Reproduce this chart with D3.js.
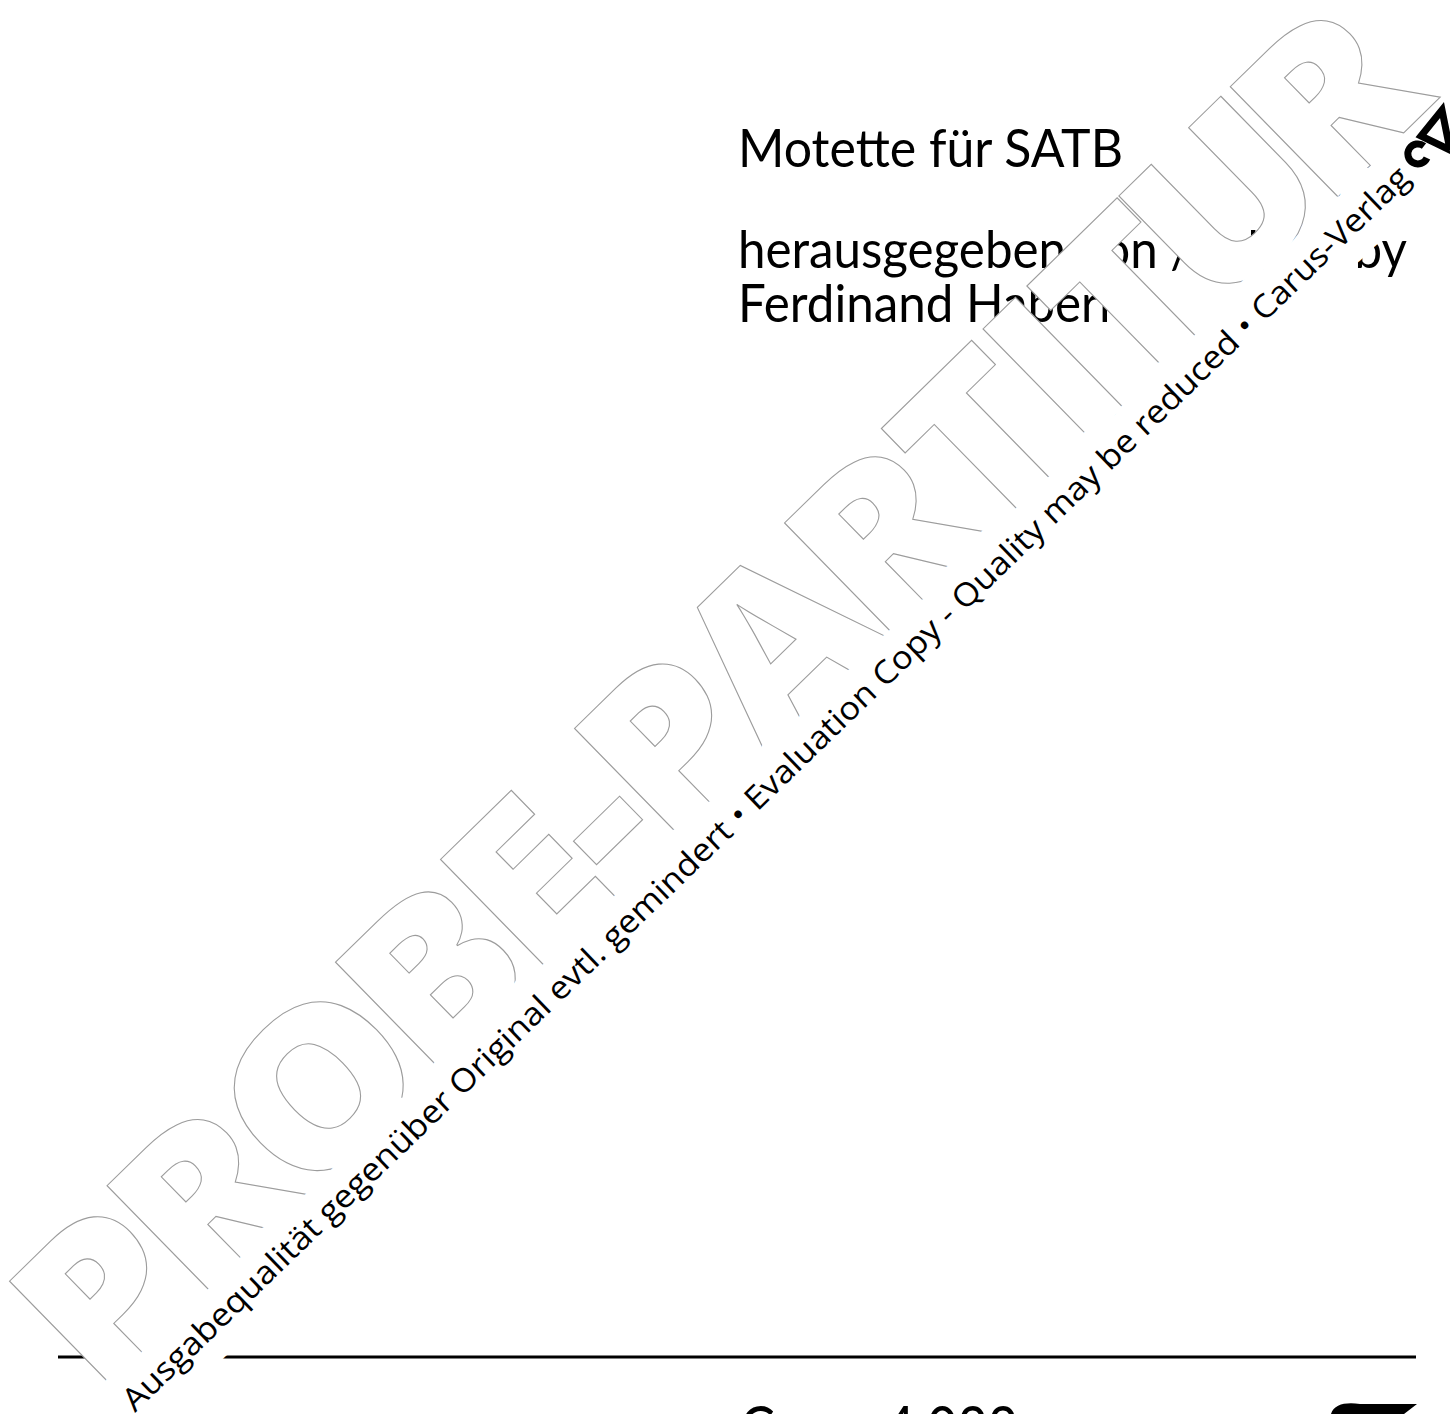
<!DOCTYPE html>
<html>
<head>
<meta charset="utf-8">
<script src="https://cdn.jsdelivr.net/npm/d3@7"></script>
<style>
html,body{margin:0;padding:0;background:#fff;}
svg{display:block;}
</style>
</head>
<body>
<script>
// ---- content ----
const titleLines = ["Motette für SATB", "herausgegeben von / edited by", "Ferdinand Haberl"];
const titleRows = [0, 1.87, 2.87];          // row index (in line units) of each title line
const watermarkWord = "PROBE-PARTITUR";
const watermarkNote = "Ausgabequalität gegenüber Original evtl. gemindert • Evaluation Copy - Quality may be reduced • Carus-Verlag";
const catalogue = "Carus 4.022";

const W = 1450, H = 1414;
const svg = d3.select("body").append("svg").attr("width", W).attr("height", H);
svg.append("rect").attr("width", W).attr("height", H).attr("fill", "#fff");

// title block
const rowY = d3.scaleLinear().domain([0, 1]).range([167, 221]);
const titles = svg.append("g").selectAll("text").data(titleLines).join("text")
  .attr("x", 738)
  .attr("y", (d, i) => rowY(titleRows[i]))
  .attr("font-family", "Lato, 'Open Sans', sans-serif")
  .attr("font-size", 52)
  .attr("fill", "#000")
  .text(d => d);
const nat = titles.nodes().map(n => n.getComputedTextLength());
const f1 = 385 / nat[0], f2 = 669 / nat[1];
titles.attr("textLength", (d, i) => nat[i] * (i === 0 ? f1 : f2))
      .attr("lengthAdjust", "spacingAndGlyphs");

// bottom rule
svg.append("line").attr("x1", 58).attr("x2", 1416).attr("y1", 1357).attr("y2", 1357)
  .attr("stroke", "#000").attr("stroke-width", 3);

// catalogue number (cut off at bottom)
svg.append("text").attr("x", 740).attr("y", 1449)
  .attr("font-family", "Lato, 'Open Sans', sans-serif")
  .attr("font-size", 60).attr("fill", "#000")
  .attr("textLength", 278).attr("lengthAdjust", "spacingAndGlyphs")
  .text(catalogue);

// bottom-right logo (top part visible)
svg.append("path")
  .attr("d", "M1331,1414 C1334,1404 1346,1402 1360,1404 L1417,1404 L1404,1414 Z")
  .attr("fill", "#000");

// big watermark letters: white fill, thin grey outline, slightly widened glyphs
const wmSize = 216, widen = 1.08;
const wm = svg.append("g").attr("transform", "translate(86,1422) rotate(-44.37)");
const wmFont = sel => sel
  .attr("font-family", "'Open Sans', sans-serif")
  .attr("font-weight", 800)
  .attr("font-size", wmSize);
const probe = wm.append("text").call(wmFont).text(watermarkWord);
const nn = watermarkWord.length;
const pn = probe.node();
const st = d3.range(nn).map(i => pn.getStartPositionOfChar(i).x);
const en = d3.range(nn).map(i => pn.getEndPositionOfChar(i).x);
probe.remove();
const mid = i => (st[i] + en[i]) / 2;
// anchors: stem of the first P, stem of the second T, leg of the last R
const pTarget = 70 - widen * ((st[0] + 0.19 * wmSize) - mid(0));
const rTarget = 1887 - widen * ((en[nn - 1] - 0.02 * wmSize) - mid(nn - 1));
const along = d3.scaleLinear()
  .domain([mid(0), mid(11), mid(nn - 1)])
  .range([pTarget, 1530, rTarget]);
wm.selectAll("text.wl").data(d3.range(nn)).join("text")
  .attr("class", "wl")
  .call(wmFont)
  .attr("text-anchor", "middle")
  .attr("transform", i => `translate(${along(mid(i)).toFixed(1)},0) scale(${widen},1)`)
  .attr("fill", "#fff")
  .attr("stroke", "#9c9c9c")
  .attr("stroke-width", 1.05)
  .text(i => watermarkWord[i]);

// small watermark line with white halo
const noteAngle = -44;
const note = svg.append("g").attr("transform", `translate(135,1413) rotate(${noteAngle})`);
note.append("text")
  .attr("font-family", "'Open Sans', sans-serif").attr("font-size", 32)
  .attr("textLength", 1775).attr("lengthAdjust", "spacingAndGlyphs")
  .attr("fill", "#fff").attr("stroke", "#fff").attr("stroke-width", 44)
  .attr("stroke-linejoin", "round")
  .text(watermarkNote);
note.append("text")
  .attr("font-family", "'Open Sans', sans-serif").attr("font-size", 32)
  .attr("textLength", 1775).attr("lengthAdjust", "spacingAndGlyphs")
  .attr("fill", "#000")
  .text(watermarkNote);

// top-right logo (rotated, at end of the watermark line)
const logo = svg.append("g");
logo.append("path")
  .attr("d", "M1424,146 A10,10 0 1 0 1427,158")
  .attr("fill", "none").attr("stroke", "#000").attr("stroke-width", 7);
logo.append("path")
  .attr("d", "M1421,136 L1442,110 L1450,150 Z")
  .attr("fill", "none").attr("stroke", "#000").attr("stroke-width", 7).attr("stroke-linejoin", "miter");
</script>
</body>
</html>
